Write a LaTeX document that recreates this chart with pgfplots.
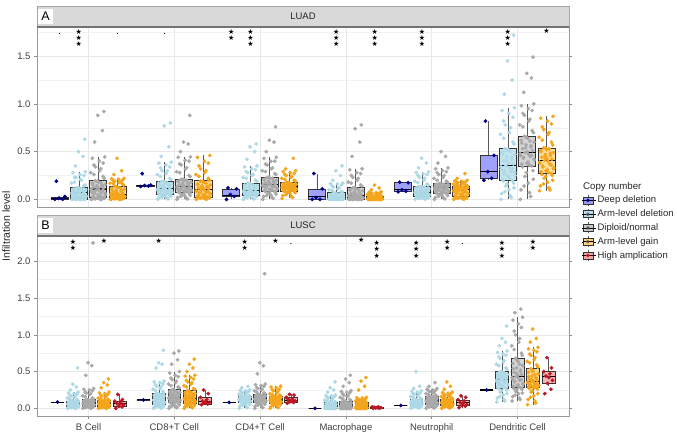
\documentclass[border=0pt]{standalone}
\usepackage{fontspec}
\setmainfont{Liberation Sans}
\newfontfamily\dejavu{DejaVu Sans}
\usepackage{pgfplots}
\usepackage{pgfplotstable}
\pgfplotsset{compat=1.18}
\usepgfplotslibrary{statistics}

\definecolor{cDD}{HTML}{00008B}
\definecolor{cDDf}{HTML}{8080FF}
\definecolor{cAD}{HTML}{ADD8E6}
\definecolor{cDN}{HTML}{A9A9A9}
\definecolor{cDNf}{HTML}{C6C6C6}
\definecolor{cGN}{HTML}{F4A51C}
\definecolor{cGNf}{HTML}{FFD27F}
\definecolor{cHA}{HTML}{BE1622}
\definecolor{cHAf}{HTML}{F29A9A}
\definecolor{lDD}{HTML}{9A9AF6}
\definecolor{lAD}{HTML}{B8DDE9}
\definecolor{lDN}{HTML}{C9C9C9}
\definecolor{lGN}{HTML}{FFD07F}
\definecolor{lHA}{HTML}{F2A3A3}
\definecolor{stripc}{HTML}{D9D9D9}

% ---------------- LUAD (panel A) ----------------
\pgfplotstableread[row sep=\\]{
o c1 c2 c3 c4 c5 c6\\
-0.6 0 .135 0 0 .08 .2\\
0.4 0 .14 .03 0 .085 .22\\
-0.1 .01 .145 .05 .02 .1 .29\\
0.7 .03 .15 .11 .11 .175 .46\\
-0.4 .19 .27 .12 .27 .18 .82\\
}\tADD

\pgfplotstableread[row sep=\\]{
o c1 c2 c3 c4 c5 c6\\
-0.9 0 0 0 0 0 0\\
0.3 0 .01 .01 0 .005 .04\\
-0.4 0 .02 .02 0 .01 .08\\
0.8 0 .03 .03 0 .015 .12\\
-0.1 .003 .04 .04 0 .02 .16\\
0.6 .006 .05 .045 0 .03 .195\\
-0.7 .01 .055 .05 0 .035 .21\\
0.1 .02 .065 .055 .002 .04 .23\\
0.95 .03 .07 .06 .004 .045 .25\\
-0.5 .035 .08 .065 .006 .05 .27\\
0.4 .045 .085 .07 .008 .055 .29\\
-0.85 .05 .09 .075 .01 .06 .31\\
0.2 .06 .1 .08 .012 .065 .33\\
-0.25 .065 .105 .085 .013 .07 .35\\
0.7 .075 .12 .1 .02 .08 .37\\
-0.6 .08 .13 .11 .025 .085 .4\\
0.5 .085 .14 .12 .03 .09 .42\\
-0.15 .09 .15 .13 .04 .1 .45\\
0.9 .1 .16 .14 .045 .11 .47\\
-0.75 .105 .17 .15 .05 .12 .5\\
0.05 .115 .18 .16 .06 .125 .52\\
-0.35 .12 .19 .17 .07 .135 .53\\
0.65 .14 .22 .2 .08 .16 .6\\
-0.95 .17 .26 .23 .1 .19 .68\\
0.35 .2 .3 .26 .12 .22 .75\\
-0.55 .23 .33 .29 .14 .25 .82\\
0.15 .26 .36 .32 .16 .27 .9\\
0.85 .29 .39 .35 .17 .29 .96\\
-0.45 .35 .45 .42 .2 .33 1.1\\
0.55 .45 .55 .5 .25 .38 1.25\\
-0.05 .5 .77 .55 .3 .43 1.45\\
0.75 .63 .8 .58 .35 nan 1.72\\
0.45 0 .005 .005 0 .002 .02\\
-0.8 0 .015 .015 0 .008 .06\\
0.15 0 .025 .025 0 .012 .1\\
-0.3 .002 .035 .035 0 .018 .14\\
0.75 .004 .045 .04 0 .025 .17\\
-0.6 .006 .05 .045 0 .03 .19\\
0.25 .015 .06 .05 .002 .038 .22\\
-0.05 .025 .07 .06 .004 .045 .25\\
0.9 .04 .08 .065 .006 .052 .28\\
-0.45 .05 .09 .07 .008 .06 .3\\
0.6 .06 .1 .08 .01 .068 .32\\
-0.9 .07 .11 .09 .012 .075 .34\\
0.05 .078 .12 .1 .018 .085 .38\\
-0.2 .088 .135 .115 .025 .095 .41\\
0.5 .095 .15 .125 .035 .105 .44\\
-0.7 .105 .16 .14 .045 .115 .47\\
0.35 .112 .17 .15 .055 .125 .5\\
-0.1 .12 .185 .165 .065 .13 .52\\
0.8 .15 .21 .19 .08 .15 .58\\
-0.55 .18 .24 .22 .095 .175 .64\\
0.2 .21 .27 .25 .11 .2 .7\\
-0.35 .23 .3 .28 .13 .23 .78\\
0.65 .25 .34 .31 .15 .26 .86\\
-0.75 .28 .38 .34 .165 .28 .93\\
}\tAAD

\pgfplotstableread[row sep=\\]{
o c1 c2 c3 c4 c5 c6\\
-0.9 0 0 0 0 0 0\\
0.3 0 .01 .02 0 .015 .07\\
-0.4 .005 .03 .04 0 .03 .14\\
0.8 .01 .04 .055 0 .04 .21\\
-0.1 .015 .055 .07 .002 .05 .28\\
0.6 .02 .07 .085 .003 .063 .35\\
-0.7 .03 .075 .09 .005 .07 .37\\
0.1 .04 .08 .1 .01 .075 .39\\
0.95 .05 .09 .11 .015 .08 .41\\
-0.5 .06 .095 .12 .02 .09 .43\\
0.4 .07 .1 .13 .025 .095 .45\\
-0.85 .08 .11 .14 .03 .1 .46\\
0.2 .09 .12 .145 .035 .11 .47\\
-0.25 .1 .125 .15 .04 .115 .49\\
0.7 .115 .14 .16 .05 .125 .51\\
-0.6 .125 .15 .17 .06 .13 .53\\
0.5 .135 .16 .18 .07 .135 .55\\
-0.15 .145 .17 .19 .08 .14 .57\\
0.9 .155 .18 .2 .09 .15 .6\\
-0.75 .17 .19 .21 .1 .155 .62\\
0.05 .18 .2 .22 .11 .16 .64\\
-0.35 .195 .21 .23 .12 .165 .66\\
0.65 .24 .25 .27 .15 .19 .72\\
-0.95 .28 .29 .3 .18 .22 .78\\
0.35 .32 .33 .33 .22 .25 .84\\
-0.55 .36 .37 .37 .25 .28 .9\\
0.15 .4 .41 .4 .28 .3 .95\\
0.85 .445 .445 .44 .32 .33 1.0\\
-0.45 .6 .5 .5 .45 .38 1.12\\
0.55 .72 .58 .6 .6 .45 1.27\\
-0.05 .88 .6 .62 .74 .5 1.32\\
0.75 .92 .88 .76 .78 nan 1.49\\
0.45 0 .005 .01 0 .005 .03\\
-0.8 .003 .02 .03 0 .02 .1\\
0.15 .008 .035 .045 0 .035 .17\\
-0.3 .012 .05 .06 .001 .045 .24\\
0.75 .017 .06 .075 .002 .055 .3\\
-0.6 .02 .07 .085 .003 .063 .34\\
0.25 .035 .08 .095 .008 .072 .36\\
-0.05 .05 .09 .105 .015 .082 .38\\
0.9 .065 .1 .12 .02 .09 .42\\
-0.45 .08 .11 .13 .028 .1 .44\\
0.6 .095 .12 .14 .034 .11 .46\\
-0.9 .105 .13 .15 .04 .12 .48\\
0.05 .12 .14 .165 .055 .128 .5\\
-0.2 .14 .155 .18 .065 .135 .54\\
0.5 .15 .17 .19 .08 .142 .56\\
-0.7 .16 .185 .205 .095 .15 .59\\
0.35 .175 .2 .22 .105 .158 .61\\
-0.1 .19 .21 .23 .12 .165 .65\\
0.8 .22 .24 .26 .14 .18 .7\\
-0.55 .26 .28 .29 .17 .2 .76\\
0.2 .3 .32 .32 .2 .23 .82\\
-0.35 .34 .36 .36 .23 .26 .88\\
0.65 .38 .4 .4 .27 .29 .93\\
-0.75 .43 .44 .43 .31 .32 .98\\
}\tADN

\pgfplotstableread[row sep=\\]{
o c1 c2 c3 c4 c5 c6\\
-0.9 0 0 .01 0 0 .09\\
0.3 0 .005 .03 0 .005 .12\\
-0.4 .005 .01 .05 0 .01 .16\\
0.8 .008 .015 .07 0 .015 .2\\
-0.1 .01 .02 .08 0 .02 .24\\
0.6 .013 .025 .087 0 .03 .27\\
-0.7 .02 .035 .09 0 .04 .29\\
0.1 .025 .045 .1 .002 .05 .31\\
0.95 .03 .055 .105 .004 .06 .33\\
-0.5 .035 .065 .11 .005 .065 .35\\
0.4 .04 .075 .115 .006 .07 .37\\
-0.85 .045 .085 .12 .007 .08 .38\\
0.2 .05 .095 .125 .008 .09 .4\\
-0.25 .055 .1 .13 .01 .095 .41\\
0.7 .065 .11 .14 .012 .105 .42\\
-0.6 .075 .12 .145 .015 .11 .44\\
0.5 .085 .13 .15 .018 .115 .46\\
-0.15 .095 .14 .155 .02 .12 .47\\
0.9 .105 .15 .16 .024 .125 .49\\
-0.75 .115 .16 .165 .028 .13 .5\\
0.05 .125 .18 .17 .03 .135 .52\\
-0.35 .14 .19 .18 .035 .14 .54\\
0.65 .16 .22 .2 .04 .15 .6\\
-0.95 .17 .26 .22 .05 .16 .65\\
0.35 .18 .3 .24 .06 .17 .7\\
-0.55 .2 .35 .26 .065 .18 .76\\
0.15 .21 .4 .28 .07 .19 .82\\
0.85 .22 .46 .3 .08 .2 .87\\
-0.45 .26 nan .32 .1 .22 nan\\
0.55 .3 nan .43 .12 .27 nan\\
-0.05 .43 nan nan .15 nan nan\\
0.45 0 .002 .02 0 .003 .1\\
-0.8 .003 .008 .04 0 .008 .14\\
0.15 .006 .012 .06 0 .013 .18\\
-0.3 .009 .018 .065 0 .018 .22\\
0.75 .011 .022 .075 0 .025 .25\\
-0.6 .013 .025 .085 0 .03 .26\\
0.25 .018 .04 .095 .001 .045 .28\\
-0.05 .028 .05 .1 .003 .055 .3\\
0.9 .033 .06 .108 .004 .063 .32\\
-0.45 .043 .07 .118 .006 .075 .34\\
0.6 .048 .08 .122 .008 .085 .36\\
-0.9 .053 .09 .128 .009 .095 .39\\
0.05 .06 .115 .138 .011 .103 .43\\
-0.2 .08 .125 .142 .014 .108 .45\\
0.5 .09 .135 .148 .017 .113 .48\\
-0.7 .1 .155 .152 .022 .118 .51\\
0.35 .12 .17 .162 .026 .128 .53\\
-0.1 .13 .185 .175 .032 .138 .535\\
0.8 .15 .2 .19 .038 .145 .57\\
-0.55 .165 .24 .21 .045 .155 .62\\
0.2 .175 .28 .23 .055 .165 .68\\
-0.35 .19 .32 .25 .06 .175 .73\\
0.65 .2 .38 .27 .07 .185 .79\\
-0.75 .215 .44 .29 .075 .195 .85\\
}\tAGN

% ---------------- LUSC (panel B) ----------------
\pgfplotstableread[row sep=\\]{
o c1 c2 c3 c4 c5 c6\\
0 .085 .115 .08 0 .04 .25\\
}\tBDD

\pgfplotstableread[row sep=\\]{
o c1 c2 c3 c4 c5 c6\\
-0.9 0 0 0 0 0 .085\\
0.3 .005 .01 .02 0 .01 .12\\
-0.4 .01 .02 .04 0 .02 .16\\
0.8 .015 .03 .055 0 .025 .2\\
-0.1 .02 .04 .07 0 .035 .24\\
0.6 .023 .05 .08 0 .04 .275\\
-0.7 .027 .06 .085 .002 .045 .29\\
0.1 .032 .07 .09 .005 .05 .3\\
0.95 .037 .08 .095 .008 .055 .32\\
-0.5 .042 .09 .1 .011 .06 .33\\
0.4 .047 .1 .105 .014 .065 .35\\
-0.85 .052 .11 .11 .017 .07 .36\\
0.2 .057 .12 .115 .02 .072 .38\\
-0.25 .062 .125 .12 .024 .077 .39\\
0.7 .066 .135 .125 .03 .08 .4\\
-0.6 .07 .145 .13 .035 .085 .42\\
0.5 .075 .155 .135 .04 .09 .43\\
-0.15 .08 .16 .14 .05 .095 .44\\
0.9 .085 .17 .145 .055 .1 .46\\
-0.75 .09 .18 .15 .065 .105 .47\\
0.05 .095 .19 .155 .07 .11 .49\\
-0.35 .1 .2 .158 .08 .12 .5\\
0.65 .12 .23 .17 .09 .14 .55\\
-0.95 .14 .26 .19 .11 .16 .6\\
0.35 .16 .29 .21 .13 .18 .65\\
-0.55 .18 .32 .22 .15 .2 .7\\
0.15 .2 .35 .24 .17 .22 .74\\
0.85 .22 .37 .25 .18 .24 .78\\
-0.45 .25 .55 .28 .22 .27 .85\\
0.55 .29 .6 .3 .25 .3 .9\\
-0.05 .33 .62 nan .28 .5 .95\\
0.75 .55 .79 nan .36 nan 1.12\\
0.45 0 .005 .01 0 .005 .1\\
-0.8 .003 .015 .03 0 .012 .14\\
0.15 .008 .025 .05 0 .018 .18\\
-0.3 .012 .035 .06 0 .028 .22\\
0.75 .018 .045 .075 0 .033 .25\\
-0.6 .022 .05 .08 0 .038 .27\\
0.25 .03 .065 .088 .003 .043 .285\\
-0.05 .035 .075 .093 .007 .048 .31\\
0.9 .04 .085 .1 .01 .058 .325\\
-0.45 .045 .095 .107 .013 .063 .34\\
0.6 .05 .105 .113 .017 .068 .37\\
-0.9 .06 .115 .118 .022 .075 .385\\
0.05 .068 .14 .128 .028 .083 .41\\
-0.2 .073 .15 .133 .033 .088 .425\\
0.5 .078 .165 .14 .045 .093 .445\\
-0.7 .083 .175 .147 .06 .098 .455\\
0.35 .09 .185 .152 .07 .108 .48\\
-0.1 .098 .195 .157 .075 .115 .495\\
0.8 .11 .21 .165 .085 .13 .53\\
-0.55 .13 .24 .18 .1 .15 .58\\
0.2 .15 .27 .2 .12 .17 .63\\
-0.35 .17 .3 .215 .14 .19 .68\\
0.65 .19 .33 .23 .16 .21 .72\\
-0.75 .21 .36 .245 .175 .23 .76\\
}\tBAD

\pgfplotstableread[row sep=\\]{
o c1 c2 c3 c4 c5 c6\\
-0.9 0 0 0 0 0 .1\\
0.3 .005 .015 .02 0 .01 .14\\
-0.4 .01 .03 .04 0 .02 .18\\
0.8 .02 .045 .055 0 .03 .21\\
-0.1 .025 .06 .07 0 .045 .25\\
0.6 .03 .077 .08 0 .054 .28\\
-0.7 .035 .085 .09 .003 .06 .3\\
0.1 .04 .095 .095 .006 .065 .32\\
0.95 .045 .105 .1 .01 .07 .34\\
-0.5 .05 .11 .11 .013 .08 .36\\
0.4 .055 .12 .115 .016 .085 .38\\
-0.85 .06 .13 .12 .019 .09 .4\\
0.2 .065 .14 .125 .022 .1 .41\\
-0.25 .075 .15 .135 .025 .108 .43\\
0.7 .08 .16 .14 .03 .115 .46\\
-0.6 .085 .175 .145 .04 .12 .49\\
0.5 .09 .19 .15 .05 .13 .52\\
-0.15 .095 .2 .16 .06 .14 .55\\
0.9 .1 .215 .165 .07 .145 .58\\
-0.75 .105 .23 .17 .08 .15 .61\\
0.05 .11 .245 .18 .09 .16 .64\\
-0.35 .12 .255 .19 .1 .167 .68\\
0.65 .14 .29 .21 .12 .18 .75\\
-0.95 .17 .33 .24 .15 .2 .85\\
0.35 .2 .37 .26 .17 .22 .95\\
-0.55 .22 .41 .28 .2 .24 1.05\\
0.15 .25 .45 .31 .22 .25 1.15\\
0.85 .27 .5 .33 .24 .27 1.24\\
-0.45 .45 .6 .47 .3 .3 1.3\\
0.55 .58 .66 .58 .35 .35 1.35\\
-0.05 .62 .75 .62 .4 nan nan\\
0.75 2.25 .78 1.83 .45 nan nan\\
0.45 0 .008 .01 0 .005 .12\\
-0.8 .008 .022 .03 0 .015 .16\\
0.15 .013 .038 .05 0 .025 .2\\
-0.3 .018 .052 .06 0 .035 .23\\
0.75 .022 .068 .075 0 .04 .26\\
-0.6 .028 .075 .08 0 .05 .27\\
0.25 .038 .09 .092 .002 .058 .29\\
-0.05 .043 .1 .098 .005 .068 .31\\
0.9 .048 .115 .105 .008 .075 .33\\
-0.45 .058 .125 .112 .012 .082 .37\\
0.6 .063 .135 .118 .018 .095 .39\\
-0.9 .07 .145 .128 .023 .104 .42\\
0.05 .082 .165 .138 .035 .112 .45\\
-0.2 .088 .18 .142 .045 .118 .48\\
0.5 .093 .195 .155 .055 .125 .5\\
-0.7 .098 .21 .168 .065 .135 .54\\
0.35 .108 .225 .175 .075 .155 .6\\
-0.1 .115 .25 .185 .095 .162 .66\\
0.8 .13 .28 .2 .11 .17 .72\\
-0.55 .16 .31 .22 .13 .19 .8\\
0.2 .19 .35 .25 .16 .21 .9\\
-0.35 .21 .39 .27 .18 .23 1.0\\
0.65 .24 .43 .3 .21 .245 1.1\\
-0.75 .26 .48 .32 .23 .26 1.2\\
}\tBDN

\pgfplotstableread[row sep=\\]{
o c1 c2 c3 c4 c5 c6\\
-0.9 0 0 0 0 0 .05\\
0.3 .005 .015 .02 0 .01 .1\\
-0.4 .01 .03 .035 0 .02 .15\\
0.8 .015 .04 .05 0 .025 .2\\
-0.1 .02 .05 .06 0 .035 .24\\
0.6 .027 .063 .072 0 .04 .28\\
-0.7 .032 .07 .078 .003 .045 .29\\
0.1 .037 .08 .084 .006 .05 .3\\
0.95 .042 .09 .09 .01 .055 .31\\
-0.5 .047 .1 .096 .013 .06 .32\\
0.4 .052 .11 .1 .016 .065 .33\\
-0.85 .058 .12 .106 .019 .07 .34\\
0.2 .065 .125 .112 .022 .075 .35\\
-0.25 .07 .135 .12 .025 .085 .365\\
0.7 .075 .145 .125 .03 .09 .38\\
-0.6 .08 .16 .13 .035 .095 .4\\
0.5 .085 .17 .135 .04 .1 .42\\
-0.15 .09 .18 .14 .05 .105 .44\\
0.9 .095 .2 .15 .055 .11 .47\\
-0.75 .1 .21 .155 .06 .115 .49\\
0.05 .105 .22 .16 .07 .12 .51\\
-0.35 .108 .24 .167 .077 .13 .54\\
0.65 .12 .27 .18 .09 .145 .59\\
-0.95 .14 .31 .2 .1 .16 .64\\
0.35 .16 .35 .23 .11 .175 .69\\
-0.55 .18 .38 .25 .12 .19 .74\\
0.15 .2 .42 .28 .14 .205 .79\\
0.85 .22 .45 .3 .15 .22 .83\\
-0.45 .28 .5 nan .25 .26 .9\\
0.55 .32 .55 nan .3 .3 .95\\
-0.05 .35 .6 nan .37 .36 1.08\\
0.75 .4 .67 nan .42 nan nan\\
0.45 0 .008 .01 0 .005 .07\\
-0.8 .007 .022 .025 0 .015 .12\\
0.15 .012 .035 .04 0 .022 .17\\
-0.3 .017 .045 .055 0 .028 .22\\
0.75 .022 .055 .065 0 .032 .26\\
-0.6 .025 .06 .07 0 .038 .27\\
0.25 .035 .075 .08 .002 .048 .285\\
-0.05 .04 .085 .087 .005 .053 .295\\
0.9 .045 .095 .093 .008 .058 .305\\
-0.45 .05 .105 .098 .012 .068 .315\\
0.6 .055 .115 .104 .018 .073 .335\\
-0.9 .062 .13 .115 .023 .08 .355\\
0.05 .078 .15 .123 .033 .088 .37\\
-0.2 .083 .165 .128 .038 .093 .39\\
0.5 .088 .175 .138 .045 .098 .41\\
-0.7 .093 .19 .145 .052 .108 .43\\
0.35 .098 .205 .152 .065 .113 .46\\
-0.1 .103 .23 .162 .072 .125 .5\\
0.8 .115 .26 .175 .082 .14 .56\\
-0.55 .13 .29 .19 .095 .155 .62\\
0.2 .15 .33 .21 .105 .17 .66\\
-0.35 .17 .36 .24 .115 .18 .72\\
0.65 .19 .4 .26 .13 .2 .77\\
-0.75 .21 .44 .29 .145 .215 .81\\
}\tBGN

\pgfplotstableread[row sep=\\]{
o c1 c2 c3 c4 c5 c6\\
-0.7 0 .05 .07 0 .01 .2\\
0.5 .02 .06 .08 0 .03 .26\\
-0.2 .03 .07 .09 .005 .04 .34\\
0.8 .05 .08 .1 .01 .05 .38\\
0.1 .06 .09 .11 .01 .07 .42\\
-0.5 .07 .1 .12 .015 .08 .44\\
0.3 .09 .12 .13 .02 .1 .47\\
-0.9 .1 .15 .15 .02 .12 .5\\
0.6 .12 .2 .18 nan .15 .55\\
-0.3 .19 .25 .19 nan .17 .69\\
}\tBHA

\pgfplotsset{
  panel/.style={
    scale only axis, width=532pt, height=180pt,
    xmin=0.4, xmax=6.6, xtick={1,2,3,4,5,6},
    clip=false,
    axis line style={draw=black!40, line width=0.6pt},
    xmajorgrids, ymajorgrids, yminorgrids,
    major grid style={draw=black!9, line width=0.6pt},
    minor grid style={draw=black!5, line width=0.4pt},
    tick align=outside, major tick length=3pt, minor tick length=0pt,
    tick style={draw=black!45, line width=0.5pt},
    /pgf/number format/assume math mode=true,
    yticklabel style={font=\fontsize{9.5}{10}\selectfont, text=black!75,
      /pgf/number format/fixed, /pgf/number format/fixed zerofill,
      /pgf/number format/precision=1},
    xticklabel style={font=\fontsize{9.5}{10}\selectfont, text=black!75, yshift=-1.5pt},
    boxplot/draw direction=y,
    boxplot/every median/.style={draw=black, line width=1.1pt},
    boxplot/every whisker/.style={draw=black!65, line width=0.6pt},
  },
  pDD/.style={forget plot, only marks, mark=*, mark size=1.7pt, color=cDD},
  pAD/.style={forget plot, only marks, mark=*, mark size=1.7pt, color=cAD},
  pDN/.style={forget plot, only marks, mark=*, mark size=1.7pt, color=cDN},
  pGN/.style={forget plot, only marks, mark=*, mark size=1.7pt, color=cGN},
  pHA/.style={forget plot, only marks, mark=*, mark size=1.7pt, color=cHA},
  bDD/.style={draw=black!80, line width=0.55pt, fill=cDDf, fill opacity=0.75},
  bAD/.style={draw=black!80, line width=0.55pt, fill=cAD, fill opacity=0.7},
  bDN/.style={draw=black!80, line width=0.55pt, fill=cDNf, fill opacity=0.75},
  bGN/.style={draw=black!80, line width=0.55pt, fill=cGNf, fill opacity=0.75},
  bHA/.style={draw=black!80, line width=0.55pt, fill=cHAf, fill opacity=0.75},
}

\newcommand{\bext}{0.2}
\newcommand{\bx}[7]{\addplot[forget plot, #1, boxplot prepared={draw direction=y, draw position=#2,
  lower whisker=#3, lower quartile=#4, median=#5, upper quartile=#6,
  upper whisker=#7, box extend=\bext, whisker extend=0}] coordinates {};}
\newcommand{\sig}[3]{\node[inner sep=0pt, anchor=north, align=center,
  font=\dejavu\fontsize{7}{6.4}\selectfont] at (axis cs:#1,#2) {#3};}
\newcommand{\dt}[2]{\node[inner sep=0pt, font=\fontsize{10}{10}\selectfont] at (axis cs:#1,#2) {.};}
\newcommand{\lgbox}[2]{%
  \path (-0.5pt,0pt) -- (13.5pt,0pt);
  \draw[black!65, line width=0.5pt] (5pt,-5.5pt)--(5pt,5.5pt);
  \draw[fill=#1, draw=black!80, line width=0.5pt] (0pt,-3.5pt) rectangle (10pt,3.5pt);
  \draw[black, line width=0.9pt] (0pt,0pt)--(10pt,0pt);
  \fill[#2] (5pt,0pt) circle (1.5pt);}

\begin{document}
\begin{tikzpicture}
\path[use as bounding box] (-37pt,-18pt) rectangle (640pt,416pt);

% ================= Panel A: LUAD =================
\begin{axis}[panel, at={(0pt,209pt)}, anchor=south west,
  ymin=-0.08, ymax=1.805, ytick={0,0.5,1,1.5}, minor ytick={0.25,0.75,1.25,1.75},
  xticklabels={}, x tick style={draw=none}]
\renewcommand{\bext}{0.2}
\pgfplotsinvokeforeach{1,...,6}{
  \addplot[pDD] table[x expr=\thisrow{o}*0.09+#1-0.3375, y=c#1] {\tADD};
  \addplot[pAD] table[x expr=\thisrow{o}*0.09+#1-0.1125, y=c#1] {\tAAD};
  \addplot[pDN] table[x expr=\thisrow{o}*0.09+#1+0.1125, y=c#1] {\tADN};
  \addplot[pGN] table[x expr=\thisrow{o}*0.09+#1+0.3375, y=c#1] {\tAGN};
}
% B Cell
\bx{bDD}{0.6625}{0}{0}{0.005}{0.02}{0.03}
\bx{bAD}{0.8875}{0}{0.006}{0.07}{0.125}{0.29}
\bx{bDN}{1.1125}{0}{0.02}{0.108}{0.2}{0.445}
\bx{bGN}{1.3375}{0}{0.013}{0.055}{0.14}{0.22}
% CD8
\bx{bDD}{1.6625}{0.135}{0.14}{0.145}{0.15}{0.15}
\bx{bAD}{1.8875}{0}{0.05}{0.11}{0.19}{0.39}
\bx{bDN}{2.1125}{0}{0.07}{0.13}{0.215}{0.445}
\bx{bGN}{2.3375}{0}{0.025}{0.105}{0.195}{0.46}
% CD4
\bx{bDD}{2.6625}{0}{0.03}{0.045}{0.105}{0.12}
\bx{bAD}{2.8875}{0}{0.045}{0.09}{0.17}{0.35}
\bx{bDN}{3.1125}{0}{0.085}{0.155}{0.235}{0.44}
\bx{bGN}{3.3375}{0.01}{0.087}{0.135}{0.18}{0.3}
% Macrophage
\bx{bDD}{3.6625}{0}{0}{0.03}{0.11}{0.27}
\bx{bAD}{3.8875}{0}{0}{0.013}{0.07}{0.17}
\bx{bDN}{4.1125}{0}{0.003}{0.04}{0.125}{0.32}
\bx{bGN}{4.3375}{0}{0}{0.01}{0.035}{0.08}
% Neutrophil
\bx{bDD}{4.6625}{0.08}{0.085}{0.1}{0.175}{0.18}
\bx{bAD}{4.8875}{0}{0.03}{0.075}{0.135}{0.29}
\bx{bDN}{5.1125}{0}{0.063}{0.12}{0.167}{0.33}
\bx{bGN}{5.3375}{0}{0.03}{0.1}{0.14}{0.2}
% Dendritic
\bx{bDD}{5.6625}{0.2}{0.22}{0.29}{0.46}{0.82}
\bx{bAD}{5.8875}{0}{0.195}{0.355}{0.535}{0.96}
\bx{bDN}{6.1125}{0}{0.35}{0.49}{0.66}{1.0}
\bx{bGN}{6.3375}{0.09}{0.27}{0.41}{0.54}{0.87}
% significance
\dt{0.6625}{1.73}
\sig{0.8875}{1.785}{★\\★\\★}
\dt{1.3375}{1.73}
\dt{1.8875}{1.73}
\sig{2.6625}{1.785}{★\\★}
\sig{2.8875}{1.785}{★\\★\\★}
\sig{3.8875}{1.785}{★\\★\\★}
\sig{4.3375}{1.785}{★\\★\\★}
\sig{4.8875}{1.785}{★\\★\\★}
\sig{5.8875}{1.785}{★\\★\\★}
\sig{6.3375}{1.79}{★}
% strip
\fill[stripc] (rel axis cs:0,1) rectangle (rel axis cs:1,1.1167);
\draw[black!35, line width=0.6pt] (rel axis cs:0,1) -- (rel axis cs:0,1.1167) -- (rel axis cs:1,1.1167) -- (rel axis cs:1,1);
\draw[black!55, line width=1.2pt] (rel axis cs:0,1) -- (rel axis cs:1,1);
\node[fill=white, minimum size=15pt, inner sep=0pt, font=\fontsize{12.5}{13}\selectfont] at (rel axis cs:0.016,1.058) {A};
\node[font=\fontsize{9.5}{10}\selectfont, text=black!85] at (rel axis cs:0.5,1.058) {LUAD};
\end{axis}

% ================= Panel B: LUSC =================
\begin{axis}[panel, at={(0pt,0pt)}, anchor=south west,
  ymin=-0.104, ymax=2.344, ytick={0,0.5,1,1.5,2}, minor ytick={0.25,0.75,1.25,1.75,2.25},
  xticklabels={B Cell, CD8+T Cell, CD4+T Cell, Macrophage, Neutrophil, Dendritic Cell},
  legend style={at={(1.0244,1.231)}, anchor=north west, draw=none, fill=none,
    inner sep=0pt, row sep=2.3pt, font=\fontsize{9.5}{10}\selectfont,
    nodes={inner sep=1pt, text height=7pt, text depth=2pt, text=black!85}},
  legend cell align=left]
\renewcommand{\bext}{0.15}
\pgfplotsinvokeforeach{1,...,6}{
  \addplot[pDD] table[x expr=\thisrow{o}*0.07+#1-0.36, y=c#1] {\tBDD};
  \addplot[pAD] table[x expr=\thisrow{o}*0.07+#1-0.18, y=c#1] {\tBAD};
  \addplot[pDN] table[x expr=\thisrow{o}*0.07+#1, y=c#1] {\tBDN};
  \addplot[pGN] table[x expr=\thisrow{o}*0.07+#1+0.18, y=c#1] {\tBGN};
  \addplot[pHA] table[x expr=\thisrow{o}*0.06+#1+0.36, y=c#1] {\tBHA};
}
% B Cell
\bx{bDD}{0.64}{0.085}{0.085}{0.085}{0.085}{0.085}
\bx{bAD}{0.82}{0}{0.023}{0.063}{0.1}{0.22}
\bx{bDN}{1.0}{0}{0.03}{0.077}{0.12}{0.27}
\bx{bGN}{1.18}{0}{0.027}{0.072}{0.108}{0.22}
\bx{bHA}{1.36}{0}{0.03}{0.064}{0.1}{0.19}
% CD8
\bx{bDD}{1.64}{0.115}{0.115}{0.115}{0.115}{0.115}
\bx{bAD}{1.82}{0}{0.05}{0.13}{0.2}{0.37}
\bx{bDN}{2.0}{0}{0.077}{0.15}{0.257}{0.5}
\bx{bGN}{2.18}{0}{0.063}{0.135}{0.24}{0.45}
\bx{bHA}{2.36}{0.05}{0.055}{0.095}{0.153}{0.25}
% CD4
\bx{bDD}{2.64}{0.08}{0.08}{0.08}{0.08}{0.08}
\bx{bAD}{2.82}{0}{0.08}{0.122}{0.158}{0.25}
\bx{bDN}{3.0}{0}{0.08}{0.135}{0.19}{0.33}
\bx{bGN}{3.18}{0}{0.072}{0.12}{0.167}{0.3}
\bx{bHA}{3.36}{0.07}{0.085}{0.11}{0.15}{0.19}
% Macrophage
\bx{bDD}{3.64}{0}{0}{0}{0}{0}
\bx{bAD}{3.82}{0}{0}{0.024}{0.08}{0.18}
\bx{bDN}{4.0}{0}{0}{0.025}{0.1}{0.24}
\bx{bGN}{4.18}{0}{0}{0.025}{0.077}{0.15}
\bx{bHA}{4.36}{0}{0.004}{0.01}{0.018}{0.02}
% Neutrophil
\bx{bDD}{4.64}{0.04}{0.04}{0.04}{0.04}{0.04}
\bx{bAD}{4.82}{0}{0.04}{0.077}{0.12}{0.24}
\bx{bDN}{5.0}{0}{0.054}{0.108}{0.167}{0.27}
\bx{bGN}{5.18}{0}{0.04}{0.085}{0.13}{0.22}
\bx{bHA}{5.36}{0.01}{0.045}{0.077}{0.11}{0.17}
% Dendritic
\bx{bDD}{5.64}{0.25}{0.25}{0.25}{0.25}{0.25}
\bx{bAD}{5.82}{0.085}{0.275}{0.39}{0.5}{0.78}
\bx{bDN}{6.0}{0.1}{0.28}{0.43}{0.68}{1.24}
\bx{bGN}{6.18}{0.05}{0.28}{0.365}{0.54}{0.83}
\bx{bHA}{6.36}{0.3}{0.34}{0.43}{0.5}{0.69}
% significance
\sig{0.82}{2.305}{★\\★}
\sig{1.18}{2.315}{★}
\sig{1.82}{2.315}{★}
\sig{2.82}{2.305}{★\\★}
\sig{3.18}{2.315}{★}
\dt{3.36}{2.236}
\sig{4.18}{2.325}{★}
\sig{4.36}{2.29}{★\\★\\★}
\sig{4.82}{2.29}{★\\★\\★}
\sig{5.18}{2.305}{★\\★}
\dt{5.36}{2.236}
\sig{5.82}{2.29}{★\\★\\★}
\sig{6.18}{2.305}{★\\★}
% strip
\fill[stripc] (rel axis cs:0,1) rectangle (rel axis cs:1,1.1167);
\draw[black!35, line width=0.6pt] (rel axis cs:0,1) -- (rel axis cs:0,1.1167) -- (rel axis cs:1,1.1167) -- (rel axis cs:1,1);
\draw[black!55, line width=1.2pt] (rel axis cs:0,1) -- (rel axis cs:1,1);
\node[fill=white, minimum size=15pt, inner sep=0pt, font=\fontsize{12.5}{13}\selectfont] at (rel axis cs:0.016,1.058) {B};
\node[font=\fontsize{9.5}{10}\selectfont, text=black!85] at (rel axis cs:0.5,1.058) {LUSC};
% legend
\node[anchor=west, inner sep=0pt, font=\fontsize{9.7}{10}\selectfont, text=black!85] at (rel axis cs:1.0263,1.272) {Copy number};
\addlegendimage{legend image code/.code={\lgbox{lDD}{cDD}}}
\addlegendentry{Deep deletion}
\addlegendimage{legend image code/.code={\lgbox{lAD}{black!70}}}
\addlegendentry{Arm-level deletion}
\addlegendimage{legend image code/.code={\lgbox{lDN}{black!70}}}
\addlegendentry{Diploid/normal}
\addlegendimage{legend image code/.code={\lgbox{lGN}{black!70}}}
\addlegendentry{Arm-level gain}
\addlegendimage{legend image code/.code={\lgbox{lHA}{cHA}}}
\addlegendentry{High amplication}
\end{axis}

\node[rotate=90, font=\fontsize{10.5}{11}\selectfont, text=black!85] at (-31pt,190pt) {Infiltration level};
\end{tikzpicture}
\end{document}
